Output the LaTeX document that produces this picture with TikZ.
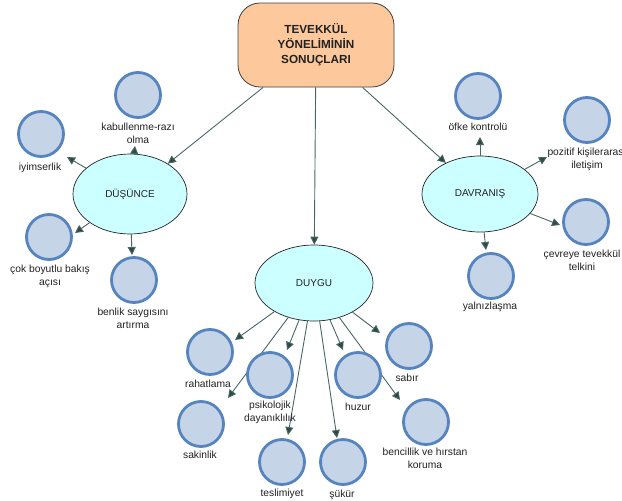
\documentclass[tikz,border=0pt]{standalone}
\usepackage{fontspec}
\setmainfont{Liberation Sans}
\usetikzlibrary{shapes.geometric,arrows.meta}
\definecolor{leaffill}{HTML}{C6D4E8}
\definecolor{leafborder}{HTML}{5584BE}
\definecolor{hubfill}{HTML}{CCFFFF}
\definecolor{topfill}{HTML}{FCC89C}
\definecolor{arrowcol}{HTML}{4A6664}
\definecolor{tipcol}{HTML}{2C4A46}
\definecolor{textcol}{HTML}{222222}
\begin{document}
\begin{tikzpicture}[x=1pt,y=-1pt,
  leaf/.style={circle, draw=leafborder, line width=2.8pt, fill=leaffill, minimum size=45pt, inner sep=0pt},
  hub/.style={ellipse, draw=black!85, line width=0.7pt, fill=hubfill, inner sep=0pt, text=textcol,
              font=\fontsize{10}{12}\selectfont},
  topbox/.style={rectangle, rounded corners=22pt, draw=black!75, line width=0.8pt, fill=topfill,
              minimum width=156pt, minimum height=84pt, align=center, text=textcol,
              font=\fontsize{11.7}{15}\selectfont\bfseries},
  lab/.style={font=\fontsize{10.3}{13}\selectfont, align=center, inner sep=0pt, text=textcol},
  arr/.style={draw=arrowcol, line width=0.9pt, -{Triangle[length=8pt,width=8pt,fill=tipcol]}, color=arrowcol}
]
\useasboundingbox (0,0) rectangle (622,501);
\fill[white] (0,0) rectangle (622,501);

% top and hubs
\node[topbox] (top) at (316,45) {TEVEKKÜL\\YÖNELİMİNİN\\SONUÇLARI};
\node[hub, minimum width=114pt, minimum height=80pt] (dus) at (130,194) {DÜŞÜNCE};
\node[hub, minimum width=116pt, minimum height=76pt] (dav) at (480,194) {DAVRANIŞ};
\node[hub, minimum width=118pt, minimum height=76pt] (duy) at (314,283) {DUYGU};

% arrow tips
\coordinate (tkab) at (135,146);
\coordinate (tiyi) at (67,157);
\coordinate (tcok) at (75,233);
\coordinate (tben) at (132,255);
\coordinate (tofk) at (480,137);
\coordinate (tpoz) at (547,157);
\coordinate (tcev) at (560,225);
\coordinate (tyal) at (486,250);
\coordinate (trah) at (235,340);
\coordinate (tpsi) at (287,350);
\coordinate (thuz) at (343,350);
\coordinate (tsab) at (380,333);
\coordinate (tsak) at (228,398);
\coordinate (ttes) at (288,435);
\coordinate (tsuk) at (337,438);
\coordinate (tben2) at (400,400);

% connectors
\draw[arr] (top) -- (dus);
\draw[arr] (top) -- (dav);
\draw[arr] (top) -- (duy);
\foreach \t in {tkab,tiyi,tcok,tben} \draw[arr] (dus) -- (\t);
\foreach \t in {tofk,tpoz,tcev,tyal} \draw[arr] (dav) -- (\t);
\foreach \t in {trah,tpsi,thuz,tsab,tsak,ttes,tsuk,tben2} \draw[arr] (duy) -- (\t);

% leaves
\node[leaf] (ckab) at (138,95) {};
\node[leaf] (ciyi) at (41,134) {};
\node[leaf] (ccok) at (49,237) {};
\node[leaf] (cben) at (134,280) {};
\node[leaf] (cofk) at (478,96) {};
\node[leaf] (cpoz) at (587,120) {};
\node[leaf] (ccev) at (586,222) {};
\node[leaf] (cyal) at (491,276) {};
\node[leaf] (crah) at (210,352) {};
\node[leaf] (cpsi) at (270,375) {};
\node[leaf] (chuz) at (358,375) {};
\node[leaf] (csab) at (409,346) {};
\node[leaf] (csak) at (201,424) {};
\node[leaf] (ctes) at (282,462) {};
\node[leaf] (csuk) at (343,462) {};
\node[leaf] (cbenc) at (426,422) {};

% labels
\node[lab] (lkab) at (138,133.5) {kabullenme-razı\\olma};
\node[lab] (liyi) at (40,168) {iyimserlik};
\node[lab] (lcok) at (50,276.5) {çok boyutlu bakış\\açısı};
\node[lab] (lben) at (133,318.5) {benlik saygısını\\artırma};
\node[lab] (lofk) at (478,127) {öfke kontrolü};
\node[lab] (lpoz) at (587,159.5) {pozitif kişilerarası\\iletişim};
\node[lab] (lcev) at (582,260) {çevreye tevekkül\\telkini};
\node[lab] (lyal) at (490,307) {yalnızlaşma};
\node[lab] (lrah) at (208,384) {rahatlama};
\node[lab] (lpsi) at (270,412.5) {psikolojik\\dayanıklılık};
\node[lab] (lhuz) at (358,407) {huzur};
\node[lab] (lsab) at (407,378) {sabır};
\node[lab] (lsak) at (200,455) {sakinlik};
\node[lab] (ltes) at (282,494) {teslimiyet};
\node[lab] (lsuk) at (342,495) {şükür};
\node[lab] (lbenc) at (425,458.5) {bencillik ve hırstan\\koruma};
\end{tikzpicture}
\end{document}
